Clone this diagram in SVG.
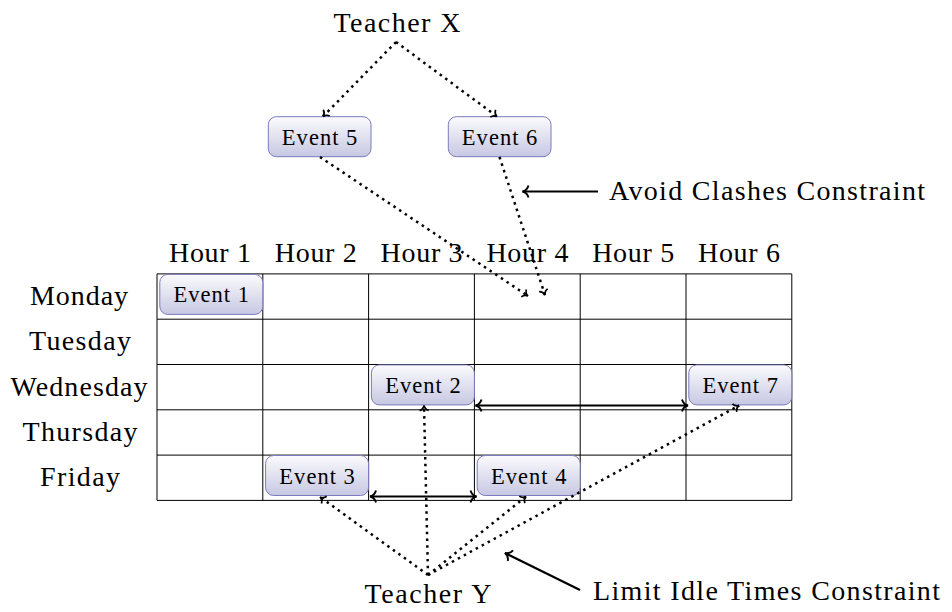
<svg xmlns="http://www.w3.org/2000/svg" width="952" height="612" viewBox="0 0 952 612">
<style>
  text { font-family: "Liberation Serif", "Times New Roman", serif; fill: #000; }
  .lbl { font-size: 28px; }
  .ev text { font-size: 22.5px; text-anchor: middle; }
  .ev rect { fill: url(#evg); stroke: #7b7bbd; stroke-width: 1; }
  .grid line { stroke: #000; stroke-width: 1; }
  .dot { fill: none; stroke: #000; stroke-width: 2.5; stroke-dasharray: 2.5 4.3; marker-end: url(#tip); }
  .solid { fill: none; stroke: #000; stroke-width: 2.2; }
</style>
<defs>
  <linearGradient id="evg" x1="0" y1="0" x2="0" y2="1">
    <stop offset="0" stop-color="#fbfbfd"/>
    <stop offset="1" stop-color="#c7c7e3"/>
  </linearGradient>
  <marker id="tip" markerUnits="userSpaceOnUse" markerWidth="20" markerHeight="20" refX="0" refY="0" orient="auto" overflow="visible">
    <path d="M-5,-4.5 C-4.2,-1.8 -2,-0.4 0,0 C-2,0.4 -4.2,1.8 -5,4.5" fill="none" stroke="#000" stroke-width="1.7" stroke-dasharray="none"/>
  </marker>
  <marker id="big" markerUnits="userSpaceOnUse" markerWidth="20" markerHeight="20" refX="0" refY="0" orient="auto-start-reverse" overflow="visible">
    <path d="M-6,-6 C-5,-2.4 -2.4,-0.5 0,0 C-2.4,0.5 -5,2.4 -6,6" fill="none" stroke="#000" stroke-width="1.9"/>
  </marker>
</defs>

<g id="grid" class="grid">
  <line x1="157" y1="273.9" x2="791.8" y2="273.9"/>
  <line x1="157" y1="319.2" x2="791.8" y2="319.2"/>
  <line x1="157" y1="364.5" x2="791.8" y2="364.5"/>
  <line x1="157" y1="409.8" x2="791.8" y2="409.8"/>
  <line x1="157" y1="455.1" x2="791.8" y2="455.1"/>
  <line x1="157" y1="500.4" x2="791.8" y2="500.4"/>
  <line x1="157" y1="273.9" x2="157" y2="500.4"/>
  <line x1="262.8" y1="273.9" x2="262.8" y2="500.4"/>
  <line x1="368.6" y1="273.9" x2="368.6" y2="500.4"/>
  <line x1="474.4" y1="273.9" x2="474.4" y2="500.4"/>
  <line x1="580.2" y1="273.9" x2="580.2" y2="500.4"/>
  <line x1="686" y1="273.9" x2="686" y2="500.4"/>
  <line x1="791.8" y1="273.9" x2="791.8" y2="500.4"/>
</g>

<g id="hours" class="lbl" text-anchor="middle">
  <text x="210" y="261.7" textLength="82" lengthAdjust="spacing">Hour 1</text>
  <text x="315.8" y="261.7" textLength="82" lengthAdjust="spacing">Hour 2</text>
  <text x="421.6" y="261.7" textLength="82" lengthAdjust="spacing">Hour 3</text>
  <text x="527.4" y="261.7" textLength="82" lengthAdjust="spacing">Hour 4</text>
  <text x="633.2" y="261.7" textLength="82" lengthAdjust="spacing">Hour 5</text>
  <text x="739" y="261.7" textLength="82" lengthAdjust="spacing">Hour 6</text>
</g>

<g id="days" class="lbl" text-anchor="middle">
  <text x="79" y="304.5" textLength="98" lengthAdjust="spacing">Monday</text>
  <text x="80" y="350.2" textLength="102" lengthAdjust="spacing">Tuesday</text>
  <text x="79" y="395.7" textLength="137" lengthAdjust="spacing">Wednesday</text>
  <text x="80" y="441" textLength="115" lengthAdjust="spacing">Thursday</text>
  <text x="80" y="486.3" textLength="80" lengthAdjust="spacing">Friday</text>
</g>

<g id="teacherX"><text class="lbl" x="397" y="32" text-anchor="middle" textLength="127" lengthAdjust="spacing">Teacher X</text></g>
<g id="teacherY"><text class="lbl" x="428" y="603" text-anchor="middle" textLength="127" lengthAdjust="spacing">Teacher Y</text></g>
<g id="avoid"><text class="lbl" x="609" y="200" textLength="316" lengthAdjust="spacing">Avoid Clashes Constraint</text></g>
<g id="limit"><text class="lbl" x="593" y="600" textLength="347" lengthAdjust="spacing">Limit Idle Times Constraint</text></g>

<g id="event1" class="ev"><rect x="159.8" y="274.4" width="103" height="40" rx="8"/><text x="211.3" y="302.4" textLength="75.5" lengthAdjust="spacing">Event 1</text></g>
<g id="event2" class="ev"><rect x="371.4" y="364.9" width="103" height="40" rx="8"/><text x="422.9" y="392.9" textLength="75.5" lengthAdjust="spacing">Event 2</text></g>
<g id="event3" class="ev"><rect x="265.6" y="455.5" width="103" height="40" rx="8"/><text x="317.1" y="483.5" textLength="75.5" lengthAdjust="spacing">Event 3</text></g>
<g id="event4" class="ev"><rect x="477.2" y="455.5" width="103" height="40" rx="8"/><text x="528.7" y="483.5" textLength="75.5" lengthAdjust="spacing">Event 4</text></g>
<g id="event5" class="ev"><rect x="268.3" y="116.7" width="102.7" height="40" rx="8"/><text x="319.6" y="144.7" textLength="75.5" lengthAdjust="spacing">Event 5</text></g>
<g id="event6" class="ev"><rect x="448.3" y="116.7" width="102.7" height="40" rx="8"/><text x="499.6" y="144.7" textLength="75.5" lengthAdjust="spacing">Event 6</text></g>
<g id="event7" class="ev"><rect x="688.8" y="364.9" width="103" height="40" rx="8"/><text x="740.3" y="392.9" textLength="75.5" lengthAdjust="spacing">Event 7</text></g>

<g id="connectors">
  <line class="dot" x1="396" y1="42" x2="323" y2="116.5"/>
  <line class="dot" x1="396" y1="42" x2="497" y2="116.5"/>
  <line class="dot" x1="320" y1="157" x2="528" y2="296"/>
  <line class="dot" x1="499.5" y1="157" x2="545" y2="295"/>
  <line class="dot" x1="428" y1="575" x2="320" y2="497"/>
  <line class="dot" x1="428" y1="575" x2="424" y2="405.5"/>
  <line class="dot" x1="428" y1="575" x2="526" y2="496.5"/>
  <line class="dot" x1="428" y1="575" x2="739" y2="405.5"/>
  <line class="solid" x1="475.5" y1="405.5" x2="688" y2="405.5" marker-start="url(#big)" marker-end="url(#big)"/>
  <line class="solid" x1="370" y1="496.5" x2="476.5" y2="496.5" marker-start="url(#big)" marker-end="url(#big)"/>
  <line class="solid" x1="598" y1="191.5" x2="522.5" y2="191.5" marker-end="url(#big)"/>
  <line class="solid" x1="580" y1="590" x2="505" y2="553" marker-end="url(#big)"/>
</g>
</svg>
